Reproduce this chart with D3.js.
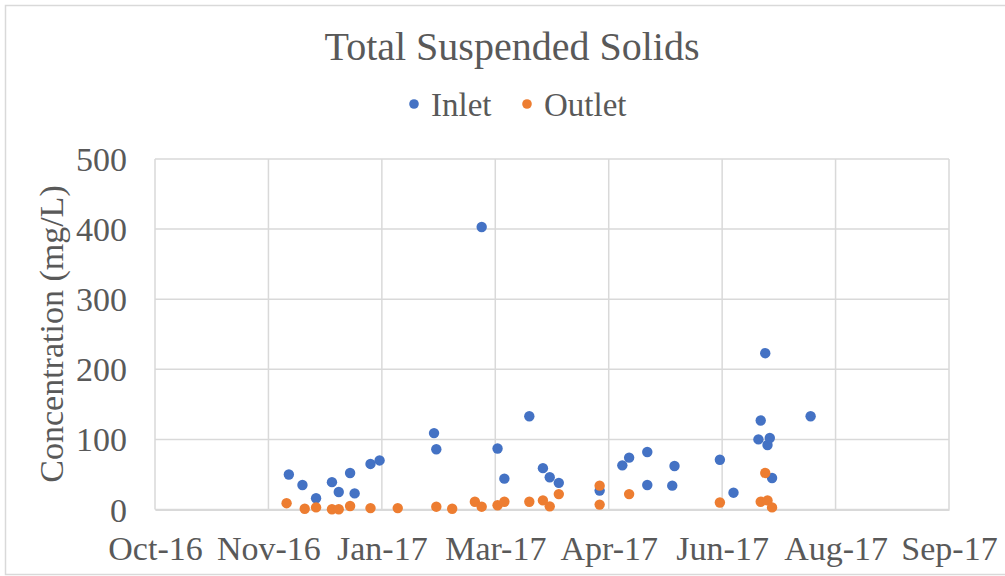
<!DOCTYPE html>
<html>
<head>
<meta charset="utf-8">
<script src="https://cdn.jsdelivr.net/npm/d3@7"></script>
<style>
  html, body { margin: 0; padding: 0; background: #fff; }
</style>
</head>
<body>
<svg id="chart" width="1005" height="576"></svg>
<script>
// sample dates and concentrations (mg/L)
var inletDates = ['2016-12-05','2016-12-11','2016-12-17','2016-12-24','2016-12-27','2017-01-01','2017-01-03',
  '2017-01-10','2017-01-14','2017-02-07','2017-02-08','2017-02-28','2017-03-07','2017-03-10','2017-03-21',
  '2017-03-27','2017-03-30','2017-04-03','2017-04-21','2017-05-01','2017-05-04','2017-05-12','2017-05-12',
  '2017-05-23','2017-05-24','2017-06-13','2017-06-19','2017-06-30','2017-07-01','2017-07-03','2017-07-04',
  '2017-07-05','2017-07-06','2017-07-23'];
var inletValues = [50, 35, 16, 39, 25, 52, 23, 65, 70, 109, 86, 403, 87, 44, 133,
  59, 46, 38, 27, 63, 74, 82, 35, 34, 62, 71, 24, 100, 127, 223, 92, 102, 45, 133];

var outletDates = ['2016-12-04','2016-12-12','2016-12-17','2016-12-24','2016-12-27','2017-01-01','2017-01-10',
  '2017-01-22','2017-02-08','2017-02-15','2017-02-25','2017-02-28','2017-03-07','2017-03-10','2017-03-21',
  '2017-03-27','2017-03-30','2017-04-03','2017-04-21','2017-04-21','2017-05-04','2017-06-13','2017-07-01',
  '2017-07-03','2017-07-04','2017-07-06'];
var outletValues = [9, 1, 3, 0.3, 0.3, 5, 2, 2, 4, 1, 11, 4, 6, 11, 11,
  13, 4.5, 22, 34, 7, 22, 10, 11, 52, 13, 3];

var seriesNames = ['Inlet', 'Outlet'];
var seriesColors = ['#4472C4', '#ED7D31'];

// excel date axis: 50 day major unit
var xStart = '2016-10-07', xEnd = '2017-09-22', xStepDays = 50;
var xTickLabels = ['Oct-16','Nov-16','Jan-17','Mar-17','Apr-17','Jun-17','Aug-17','Sep-17'];
var yTicks = [0, 100, 200, 300, 400, 500];

var FONT = '"Liberation Serif", "Times New Roman", Tinos, "DejaVu Serif", serif';
var TXT = '#595959';

var parse = d3.utcParse('%Y-%m-%d');
var svg = d3.select('#chart');
var m = {left: 155, right: 949, top: 159, bottom: 509.5};

var x = d3.scaleUtc().domain([parse(xStart), parse(xEnd)]).range([m.left, m.right]);
var y = d3.scaleLinear().domain([0, 500]).range([m.bottom, m.top]);
var xTicks = xTickLabels.map(function(d, i){ return d3.utcDay.offset(parse(xStart), i * xStepDays); });

// outer chart border
svg.append('rect')
  .attr('x', 5.5).attr('y', 5.5).attr('width', 1010).attr('height', 569)
  .attr('fill', 'none').attr('stroke', '#d9d9d9').attr('stroke-width', 1.5);

svg.append('text')
  .attr('x', 512).attr('y', 60)
  .attr('text-anchor', 'middle')
  .attr('font-family', FONT).attr('font-size', 40).attr('fill', TXT)
  .text('Total Suspended Solids');

// gridlines
var grid = svg.append('g');
grid.selectAll('line.h').data(yTicks).enter().append('line')
  .attr('class', 'h')
  .attr('x1', m.left).attr('x2', m.right)
  .attr('y1', function(d){ return y(d); }).attr('y2', function(d){ return y(d); })
  .attr('stroke', '#d9d9d9').attr('stroke-width', 1.5);
grid.selectAll('line.v').data(xTicks).enter().append('line')
  .attr('class', 'v')
  .attr('y1', m.top).attr('y2', m.bottom)
  .attr('x1', function(d){ return x(d); }).attr('x2', function(d){ return x(d); })
  .attr('stroke', '#d9d9d9').attr('stroke-width', 1.5);

// axes (only labels and the zero line)
var xAxis = d3.axisBottom(x).tickValues(xTicks).tickSize(0).tickPadding(0)
  .tickFormat(function(d, i){ return xTickLabels[i]; });
var gx = svg.append('g').attr('transform', 'translate(0,' + m.bottom + ')').call(xAxis)
  .attr('font-family', FONT).attr('font-size', 34);
gx.select('.domain').attr('stroke', '#d9d9d9').attr('stroke-width', 2);
gx.selectAll('text').attr('dy', null).attr('y', 50).attr('fill', TXT);

var yAxis = d3.axisLeft(y).tickValues(yTicks).tickSize(0).tickPadding(28);
var gy = svg.append('g').attr('transform', 'translate(' + m.left + ',0)').call(yAxis)
  .attr('font-family', FONT).attr('font-size', 34);
gy.select('.domain').remove();
gy.selectAll('text').attr('dy', '0.34em').attr('fill', TXT);

svg.append('text')
  .attr('transform', 'translate(63,334) rotate(-90)')
  .attr('text-anchor', 'middle')
  .attr('font-family', FONT).attr('font-size', 34).attr('fill', TXT)
  .text('Concentration (mg/L)');

// points
var series = [
  {name: seriesNames[0], color: seriesColors[0], dates: inletDates, values: inletValues},
  {name: seriesNames[1], color: seriesColors[1], dates: outletDates, values: outletValues}
];
series.forEach(function(s){
  var pts = s.dates.map(function(d, i){ return {date: parse(d), value: s.values[i]}; });
  svg.append('g').selectAll('circle').data(pts).enter().append('circle')
    .attr('cx', function(d){ return x(d.date); })
    .attr('cy', function(d){ return y(d.value); })
    .attr('r', 5.2)
    .attr('fill', s.color);
});

// legend
var legendX = [414, 527];
var legend = svg.append('g').selectAll('g').data(series).enter().append('g')
  .attr('transform', function(d, i){ return 'translate(' + legendX[i] + ',104)'; });
legend.append('circle').attr('r', 4.8).attr('fill', function(d){ return d.color; });
legend.append('text').attr('x', 17).attr('y', 12)
  .attr('font-family', FONT).attr('font-size', 33).attr('fill', TXT)
  .text(function(d){ return d.name; });
</script>
</body>
</html>
